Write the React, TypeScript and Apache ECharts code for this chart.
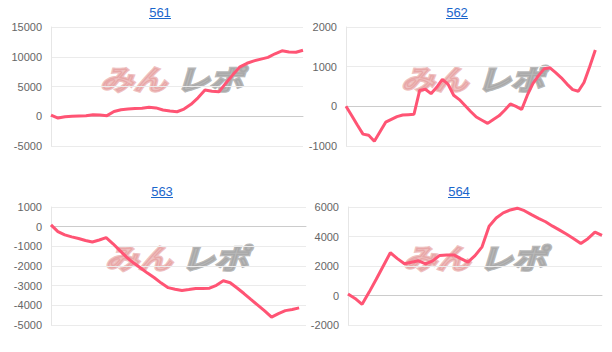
import React, { useEffect, useRef } from "react";
import * as echarts from "echarts";

const titles = ["561", "562", "563", "564"];

const values561 = [200, -300, -100, 0, 50, 100, 250, 200, 100, 800, 1100, 1200, 1300, 1350, 1500, 1400, 1050, 900, 760, 1200, 2000, 3100, 4400, 4200, 4100, 5600, 7000, 8300, 8900, 9300, 9600, 9900, 10500, 11000, 10800, 10750, 11100];
const values562 = [0, -230, -470, -700, -730, -880, -640, -400, -330, -260, -220, -210, -200, 400, 430, 320, 480, 680, 560, 280, 170, 20, -130, -270, -350, -430, -330, -240, -100, 60, 0, -80, 280, 580, 780, 950, 970, 850, 720, 560, 420, 380, 600, 1000, 1420];
const values563 = [90, -250, -420, -520, -600, -700, -780, -680, -560, -870, -1220, -1560, -1850, -2100, -2360, -2600, -2870, -3100, -3180, -3250, -3200, -3140, -3140, -3130, -2980, -2750, -2850, -3120, -3400, -3700, -3990, -4280, -4600, -4420, -4270, -4210, -4130];
const values564 = [100, -200, -600, 230, 1100, 2000, 2900, 2500, 2150, 2250, 2350, 2150, 2350, 2720, 2750, 2750, 2500, 2260, 2700, 3300, 4700, 5250, 5600, 5800, 5920, 5750, 5480, 5230, 5000, 4700, 4430, 4150, 3850, 3520, 3850, 4300, 4070];

const seriesValues = [values561, values562, values563, values564];
const categoryCounts = [37, 46, 38, 37];
const yMins = [-5000, -1000, -5000, -2000];
const yMaxs = [15000, 2000, 1000, 6000];
const yIntervals = [5000, 1000, 1000, 2000];

const grids = [
  { left: 51, top: 27, width: 252, height: 119 },
  { left: 346, top: 27, width: 255, height: 119 },
  { left: 51, top: 207, width: 255, height: 118 },
  { left: 348, top: 207, width: 254, height: 118 },
];
const titlePos = [
  [160, 12],
  [457, 12],
  [162, 191],
  [459, 191],
];
const markPos = [
  [100, 78],
  [401, 78],
  [105, 257],
  [403, 257],
];

export default function App() {
  const ref = useRef<HTMLDivElement>(null);
  useEffect(() => {
    document.body.style.margin = "0";
    const chart = echarts.init(ref.current!, undefined, { renderer: "svg" });
    const graphic: any[] = [];
    titles.forEach((t, i) => {
      const [x, y] = titlePos[i];
      graphic.push({
        type: "text",
        x,
        y,
        style: {
          text: t,
          fill: "#1a66cc",
          font: "13px Arial, 'Liberation Sans', sans-serif",
          textAlign: "center",
          textVerticalAlign: "middle",
        },
      });
      graphic.push({
        type: "line",
        shape: { x1: x - 11, y1: y + 6.5, x2: x + 11, y2: y + 6.5 },
        style: { stroke: "#1a66cc", lineWidth: 1 },
      });
    });
    markPos.forEach(([x, y]) => {
      graphic.push({
        type: "text",
        x,
        y,
        z: -1,
        scaleX: 1.2,
        style: {
          text: "みん",
          fill: "rgba(228,150,150,0.6)",
          stroke: "rgba(228,150,150,0.6)",
          lineWidth: 2.5,
          font: "italic bold 28px 'Noto Sans CJK JP', sans-serif",
          textAlign: "left",
          textVerticalAlign: "middle",
        },
      });
      graphic.push({
        type: "text",
        x: x + 76,
        y,
        z: -1,
        scaleX: 1.2,
        style: {
          text: "レポ",
          fill: "rgba(165,165,165,0.8)",
          stroke: "rgba(165,165,165,0.8)",
          lineWidth: 2.5,
          font: "italic bold 28px 'Noto Sans CJK JP', sans-serif",
          textAlign: "left",
          textVerticalAlign: "middle",
        },
      });
    });
    chart.setOption({
      animation: false,
      grid: grids.map((g) => ({ ...g, containLabel: false })),
      xAxis: seriesValues.map((_, i) => ({
        type: "category",
        gridIndex: i,
        boundaryGap: false,
        data: Array.from({ length: categoryCounts[i] }, (_, k) => String(k + 1)),
        axisLine: { show: true, onZero: true, lineStyle: { color: "#cccccc", width: 1 } },
        axisTick: { show: false },
        axisLabel: { show: false },
        splitLine: { show: false },
      })),
      yAxis: seriesValues.map((_, i) => ({
        type: "value",
        gridIndex: i,
        min: yMins[i],
        max: yMaxs[i],
        interval: yIntervals[i],
        axisLine: { show: true, lineStyle: { color: "#e6e6e6" } },
        axisTick: { show: false },
        axisLabel: {
          color: "#666666",
          fontSize: 11,
          fontFamily: "Arial, 'Liberation Sans', sans-serif",
          margin: 9,
          formatter: (v: number) => String(v),
        },
        splitLine: { show: true, lineStyle: { color: "#ebebeb", width: 1 } },
      })),
      series: seriesValues.map((vals, i) => ({
        type: "line",
        xAxisIndex: i,
        yAxisIndex: i,
        data: vals,
        symbol: "none",
        z: 5,
        lineStyle: { color: "#ff5474", width: 3 },
      })),
      graphic,
    });
    return () => chart.dispose();
  }, []);
  return <div ref={ref} style={{ position: "absolute", left: 0, top: 0, width: 612, height: 352 }} />;
}
